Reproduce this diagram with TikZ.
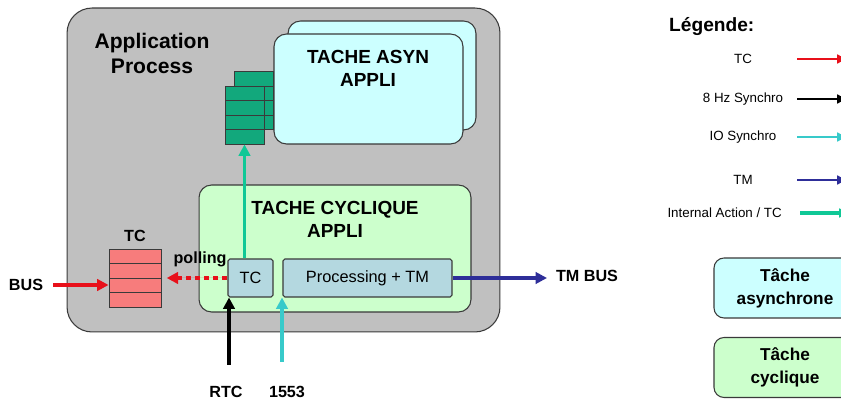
\documentclass[tikz,border=0pt]{standalone}
\usepackage{fontspec}
\setmainfont{Liberation Sans}
\usepackage{xcolor}
\usepackage{tikz}
\usetikzlibrary{positioning,arrows.meta}
\definecolor{mBorder}{HTML}{3A3A3A}
\definecolor{mAppGray}{HTML}{C0C0C0}
\definecolor{mAsynCyan}{HTML}{CCFFFF}
\definecolor{mCycGreen}{HTML}{CCFFCC}
\definecolor{mInBlue}{HTML}{B4D8E0}
\definecolor{mStackGreen}{HTML}{12A87C}
\definecolor{mStackRed}{HTML}{F77C7C}
\definecolor{mArrRed}{HTML}{E8101A}
\definecolor{mArrCyan}{HTML}{38CACA}
\definecolor{mArrBlue}{HTML}{2E2E99}
\definecolor{mArrGreen}{HTML}{10C896}
\tikzset{
  appbox/.style={draw=mBorder, fill=mAppGray, line width=0.6pt, rounded corners=0.5cm},
  asynbox/.style={draw=mBorder, fill=mAsynCyan, line width=0.6pt, rounded corners=0.25cm},
  cycbox/.style={draw=mBorder, fill=mCycGreen, line width=0.6pt, rounded corners=0.25cm},
  inbox/.style={draw=mBorder, fill=mInBlue, line width=0.6pt, rounded corners=1pt, minimum height=0.76cm, inner sep=0pt, font=\fontsize{9.3}{11}\selectfont},
  redcell/.style={draw=mBorder, fill=mStackRed, line width=0.5pt, minimum width=1.04cm, minimum height=0.29cm, inner sep=0pt},
  greencell/.style={draw=mBorder, fill=mStackGreen, line width=0.5pt, minimum width=0.78cm, minimum height=0.29cm, inner sep=0pt},
  bigtitle/.style={font=\bfseries\fontsize{12}{14.2}\selectfont, align=center},
  boxtitle/.style={font=\bfseries\fontsize{10.8}{13.4}\selectfont, align=center},
  lbl/.style={font=\bfseries\fontsize{9.2}{11}\selectfont},
  legtxt/.style={font=\fontsize{7.6}{9}\selectfont},
  leghead/.style={font=\bfseries\fontsize{10.9}{13}\selectfont},
  legbox/.style={draw=mBorder, line width=0.6pt, rounded corners=0.2cm, minimum width=2.84cm, minimum height=1.2cm, align=center, font=\bfseries\fontsize{9.8}{13}\selectfont},
  flow/.style={-{Triangle[length=6.5pt,width=6.5pt]}, line width=2.2pt},
  tcarrow/.style={flow, draw=mArrRed, fill=mArrRed},
  syncarrow/.style={flow, draw=black, line width=2.6pt},
  ioarrow/.style={flow, draw=mArrCyan},
  tmarrow/.style={flow, draw=mArrBlue, line width=2.4pt},
  intarrow/.style={flow, draw=mArrGreen},
  legarrow/.style={-{Triangle[length=5pt,width=5pt]}, line width=1.5pt}
}
\newcommand{\stackcell}[4]{%
 \node[#4] (#1) at (#2,#3) {};}
\newcommand{\legrow}[4]{%
 \node[legtxt] (#1) at (743,#2) {#3};%
 \coordinate (#1a) at (797,#2);%
 \coordinate (#1b) at (846,#2);%
 \draw[legarrow, #4] (#1a) -- (#1b);}

\begin{document}
\begin{tikzpicture}[x=0.02cm, y=-0.02cm]
\useasboundingbox (0,0) rectangle (841,401);
\clip (0,0) rectangle (841,401);
\fill[white] (0,0) rectangle (841,401);

% application process
\node[appbox, minimum width=8.66cm, minimum height=6.48cm] (app) at (283.5,170) {};
\node[bigtitle] (apptxt) at (152,53) {Application\\Process};

% asynchronous task
\node[asynbox, minimum width=3.76cm, minimum height=2.18cm] (asynback) at (382,75.5) {};
\node[asynbox, minimum width=3.78cm, minimum height=2.2cm] (asyn) at (368.5,89) {};
\node[boxtitle] (asyntxt) at (368,68.5) {TACHE ASYN\\APPLI};

% green queue
\stackcell{gb1}{253.5}{79}{greencell}
\stackcell{gb2}{253.5}{93.5}{greencell}
\stackcell{gb3}{253.5}{108}{greencell}
\stackcell{gb4}{253.5}{122.5}{greencell}
\stackcell{g1}{244.5}{93.25}{greencell}
\stackcell{g2}{244.5}{107.75}{greencell}
\stackcell{g3}{244.5}{122.25}{greencell}
\stackcell{g4}{244.5}{136.75}{greencell}

% cyclic task
\node[cycbox, minimum width=5.44cm, minimum height=2.54cm] (cyc) at (335,248.5) {};
\node[boxtitle] (cyctxt) at (335,219.5) {TACHE CYCLIQUE\\APPLI};
\node[inbox, minimum width=0.9cm] (tcin) at (250.5,278) {TC};
\node[inbox, minimum width=3.38cm] (proc) at (367.5,278) {Processing + TM};

% TC queue
\stackcell{r1}{135}{256.25}{redcell}
\stackcell{r2}{135}{270.75}{redcell}
\stackcell{r3}{135}{285.25}{redcell}
\stackcell{r4}{135}{299.75}{redcell}
\node[lbl] (tcq) at (135,236) {TC};

% labels
\node[lbl] (bus) at (26,285) {BUS};
\node[lbl] (polling) at (200,259) {polling};
\node[lbl] (tmbus) at (587,276) {TM BUS};
\node[lbl] (rtc) at (226,392) {RTC};
\node[lbl] (mil) at (287,392) {1553};

% flows
\coordinate (busIn) at (53,285);
\draw[tcarrow] (busIn) -- (busIn -| r3.west);
\draw[tcarrow, dash pattern=on 3pt off 2.2pt, shorten >=3pt] (tcin.west) -- (tcin.west -| r2.east);
\coordinate (rtcIn) at (229,365);
\draw[syncarrow] (rtcIn) -- (rtcIn |- tcin.south);
\coordinate (ioIn) at (282,362);
\draw[ioarrow] (ioIn) -- (ioIn |- proc.south);
\coordinate (tmOut) at (547,278);
\draw[tmarrow] (proc.east) -- (tmOut);
\draw[intarrow] (tcin.north -| g4.south) -- (g4.south);

% legend
\node[leghead, anchor=west] (leg) at (663,27) {Légende:};
\legrow{legtc}{59}{TC}{draw=mArrRed, fill=mArrRed}
\legrow{legsync}{99}{8 Hz Synchro}{draw=black}
\legrow{legio}{137}{IO Synchro}{draw=mArrCyan}
\legrow{legtm}{180}{TM}{draw=mArrBlue}
\node[legtxt, anchor=east] (legint) at (788,213) {Internal Action / TC};
\coordinate (legintA) at (800,213);
\coordinate (legintB) at (848,213);
\draw[legarrow, draw=mArrGreen, line width=2.2pt] (legintA) -- (legintB);
\node[legbox, fill=mAsynCyan] (legasyn) at (785,288) {Tâche\\asynchrone};
\node[legbox, fill=mCycGreen] (legcyc) at (785,367.5) {Tâche\\cyclique};
\end{tikzpicture}
\end{document}
